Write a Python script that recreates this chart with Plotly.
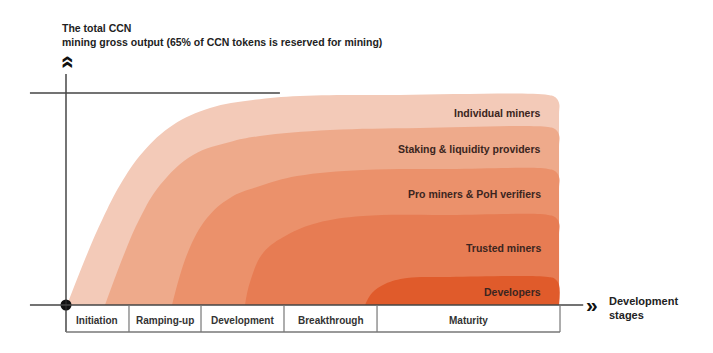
import plotly.graph_objects as go

# ---- data (x: development time, 0..100 ; y: share of total mining output, %) ----
band_names = ["Individual miners", "Staking & liquidity providers",
              "Pro miners & PoH verifiers", "Trusted miners", "Developers"]
band_colors = ["#F3CAB8", "#EEAA8B", "#EB916B", "#E77C53", "#E05B2B"]

ind_x = [0.2, 4.45, 7.49, 10.93, 15.59, 21.66, 29.15, 37.85, 47.37, 67.6, 97.6, 99.0, 99.8, 99.8, 99.8]
ind_y = [0, 25.0, 41.0, 56.6, 72.2, 84.9, 92.9, 96.7, 98.6, 99.1, 99.1, 98.1, 95.3, 89.6, 0]

stk_x = [7.89, 11.94, 14.98, 19.03, 25.71, 33.2, 39.27, 53.44, 71.66, 97.57, 98.99, 99.8, 99.8, 99.8]
stk_y = [0, 25.0, 41.0, 56.6, 70.8, 76.9, 79.7, 82.5, 83.5, 84.0, 83.0, 80.2, 74.5, 0]

pro_x = [21.46, 24.70, 28.54, 33.2, 39.27, 46.76, 60.12, 77.73, 97.57, 98.99, 99.8, 99.8, 99.8]
pro_y = [0, 25.0, 41.0, 50.5, 56.1, 60.8, 63.7, 64.2, 64.2, 63.2, 60.4, 54.7, 0]

tru_x = [36.23, 37.25, 39.88, 44.74, 50.81, 60.12, 77.73, 97.57, 98.99, 99.8, 99.8, 99.8]
tru_y = [0, 10.8, 24.5, 33.0, 38.7, 42.0, 42.5, 42.5, 41.5, 38.7, 33.0, 0]

dev_x = [60.53, 61.94, 64.57, 69.03, 77.73, 97.57, 98.99, 99.8, 99.8]
dev_y = [0, 5.7, 9.9, 12.7, 13.2, 13.2, 12.3, 9.4, 0]

band_label_y = [90.6, 73.6, 52.4, 26.9, 6.1]

stage_names = ["Initiation", "Ramping-up", "Development", "Breakthrough", "Maturity"]
stage_bounds = [0, 12.75, 27.33, 44.13, 62.96, 100]

bands_x = [ind_x, stk_x, pro_x, tru_x, dev_x]
bands_y = [ind_y, stk_y, pro_y, tru_y, dev_y]

# ---- figure ----
fig = go.Figure()
for name, col, bx, by in zip(band_names, band_colors, bands_x, bands_y):
    fig.add_trace(go.Scatter(x=bx, y=by, mode="lines", name=name,
                             line=dict(color=col, width=0, shape="spline", smoothing=1.1),
                             fill="tozeroy", fillcolor=col, hoverinfo="name"))

AX = "#2a2a2a"
shapes = []
# axes lines
shapes.append(dict(type="line", xref="x", yref="y", x0=0, x1=0, y0=-12.7, y1=109.0,
                   line=dict(color=AX, width=1.3)))
shapes.append(dict(type="line", xref="x", yref="y", x0=-7.3, x1=104.7, y0=0, y1=0,
                   line=dict(color="#444", width=1.3)))
shapes.append(dict(type="line", xref="x", yref="y", x0=-7.3, x1=43.3, y0=100, y1=100,
                   line=dict(color="#444", width=1.3)))
# stage table
shapes.append(dict(type="line", xref="x", yref="y", x0=stage_bounds[0], x1=stage_bounds[-1],
                   y0=-12.7, y1=-12.7, line=dict(color="#777", width=1.6)))
for b in stage_bounds[1:]:
    shapes.append(dict(type="line", xref="x", yref="y", x0=b, x1=b, y0=0, y1=-12.7,
                       line=dict(color="#777", width=1.2)))

# origin dot
fig.add_trace(go.Scatter(x=[0], y=[0], mode="markers",
                         marker=dict(color="#111", size=11), hoverinfo="skip"))

ann = []
FONT = "Liberation Sans, Arial, sans-serif"
for name, ly in zip(band_names, band_label_y):
    ann.append(dict(x=96.6, y=ly, xref="x", yref="y", text="<b>%s</b>" % name.replace("&", "&amp;"),
                    showarrow=False, xanchor="right", yanchor="middle",
                    font=dict(family=FONT, size=10.5, color="#3b2520")))
for i, s in enumerate(stage_names):
    ann.append(dict(x=(stage_bounds[i] + stage_bounds[i + 1]) / 2, y=-7.5, xref="x", yref="y",
                    text="<b>%s</b>" % s, showarrow=False, xanchor="center", yanchor="middle",
                    font=dict(family=FONT, size=10, color="#333")))
ann.append(dict(x=-1.2, y=127.4, xref="x", yref="y",
                text="<b>The total CCN<br>mining gross output (65% of CCN tokens is reserved for mining)</b>",
                showarrow=False, xanchor="left", yanchor="middle", align="left",
                font=dict(family=FONT, size=10.5, color="#222")))
ann.append(dict(x=0, y=114.3, xref="x", yref="y", text="<b>»</b>", textangle=-90,
                showarrow=False, xanchor="center", yanchor="middle",
                font=dict(family=FONT, size=24, color="#111")))
ann.append(dict(x=106.5, y=0.3, xref="x", yref="y", text="<b>»</b>",
                showarrow=False, xanchor="center", yanchor="middle",
                font=dict(family=FONT, size=21, color="#111")))
ann.append(dict(x=109.5, y=-1.4, xref="x", yref="y", text="<b>Development<br>stages</b>",
                showarrow=False, xanchor="left", yanchor="middle", align="left",
                font=dict(family=FONT, size=11, color="#222")))

fig.update_layout(
    width=713, height=353, margin=dict(l=0, r=0, t=0, b=0),
    paper_bgcolor="white", plot_bgcolor="white", showlegend=False,
    xaxis=dict(range=[-13.36, 130.97], visible=False, fixedrange=True),
    yaxis=dict(range=[-22.64, 143.87], visible=False, fixedrange=True),
    shapes=shapes, annotations=ann,
)
fig.write_html("out.html")
